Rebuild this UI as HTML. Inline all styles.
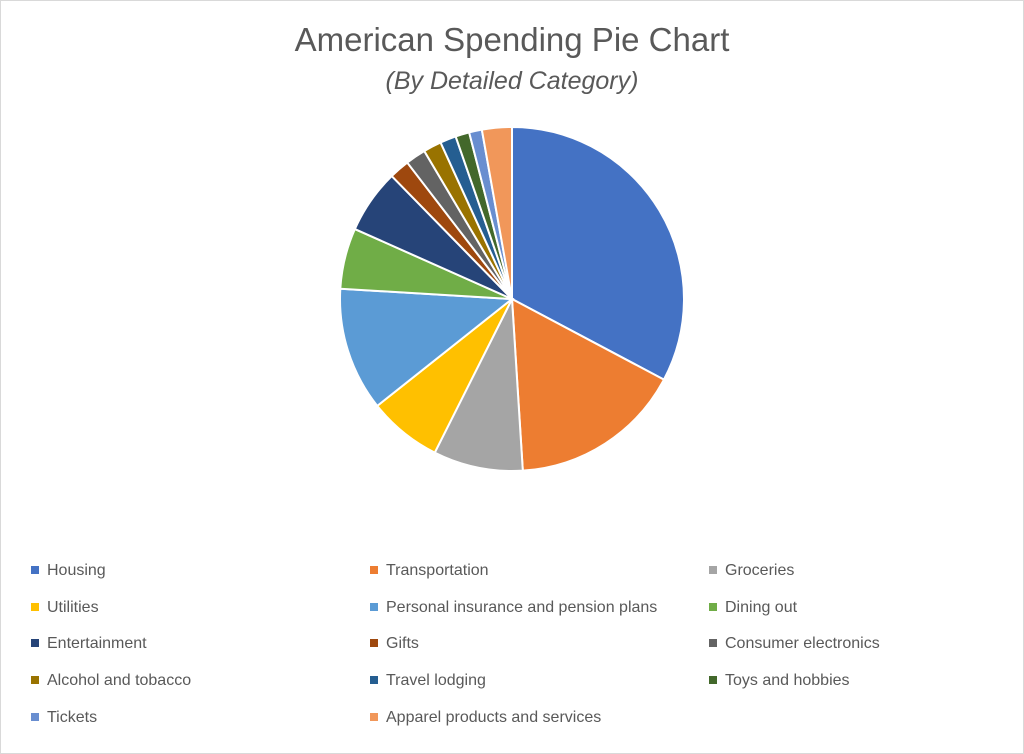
<!DOCTYPE html>
<html><head><meta charset="utf-8"><style>
body{margin:0;background:#fff;font-family:"Liberation Sans",sans-serif;}
#wrap{position:relative;width:1022px;height:752px;border:1px solid #d9d9d9;}
.t{position:absolute;left:0;width:1022px;text-align:center;color:#595959;}
.leg{position:absolute;font-size:16px;color:#595959;white-space:nowrap;}
.leg i{display:inline-block;width:8px;height:8px;margin-right:8px;vertical-align:1px;}
</style></head><body>
<div id="wrap">
<div class="t" style="top:20px;font-size:33px;">American Spending Pie Chart</div>
<div class="t" style="top:66px;font-size:25px;font-style:italic;">(By Detailed Category)</div>
<svg id="pie" width="1022" height="520" style="position:absolute;left:0;top:0"></svg>
<div id="legend"></div>
</div>
<script>
const categories=["Housing","Transportation","Groceries","Utilities","Personal insurance and pension plans","Dining out","Entertainment","Gifts","Consumer electronics","Alcohol and tobacco","Travel lodging","Toys and hobbies","Tickets","Apparel products and services"];
const values=[32.7,16.2,8.4,6.9,11.6,5.7,6.0,1.9,1.9,1.7,1.5,1.3,1.2,2.8];
const colors=["#4472c4","#ed7d31","#a5a5a5","#ffc000","#5b9bd5","#70ad47","#264478","#9e480e","#636363","#997300","#255e91","#43682b","#698ed0","#f1975a"];
const svg=document.getElementById('pie');
const cx=511,cy=298,r=172;
const total=values.reduce((a,b)=>a+b,0);
function pt(a){return [cx+r*Math.sin(a),cy-r*Math.cos(a)];}
let acc=0;
values.forEach((v,i)=>{
  const a0=acc/total*2*Math.PI; acc+=v; const a1=acc/total*2*Math.PI;
  const p0=pt(a0),p1=pt(a1);
  const p=document.createElementNS('http://www.w3.org/2000/svg','path');
  p.setAttribute('d',`M${cx},${cy}L${p0[0]},${p0[1]}A${r},${r} 0 ${a1-a0>Math.PI?1:0} 1 ${p1[0]},${p1[1]}Z`);
  p.setAttribute('fill',colors[i]);p.setAttribute('stroke','#fff');p.setAttribute('stroke-width','2');
  
  
  svg.appendChild(p);
});
const lg=document.getElementById('legend');
const colX=[30,369,708],rowY=[561,598,634,671,708];
categories.forEach((c,i)=>{
  const d=document.createElement('div');d.className='leg';
  d.style.left=colX[i%3]+'px';d.style.top=rowY[Math.floor(i/3)]+'px';
  d.innerHTML=`<i style="background:${colors[i]}"></i>${c}`;
  
  
  lg.appendChild(d);
});
</script>
</body></html>
